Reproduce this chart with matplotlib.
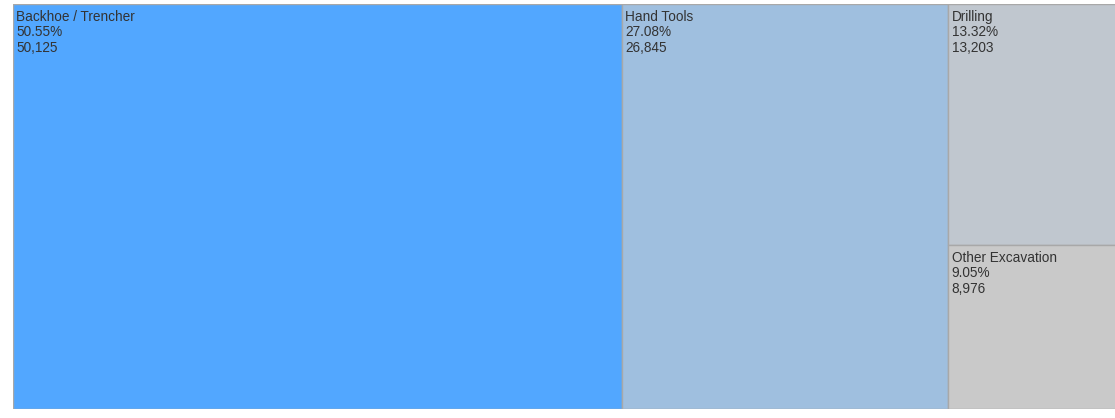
import numpy as np
import matplotlib.pyplot as plt
from matplotlib.patches import Rectangle

# datos del treemap
labels = ['Backhoe / Trencher', 'Hand Tools', 'Drilling', 'Other Excavation']
values = [50125, 26845, 13203, 8976]
pcts = ['50.55%', '27.08%', '13.32%', '9.05%']
colors = ['#52a7ff', '#9fbfdf', '#c0c7cf', '#c9c9c9']
# columna de cada categoria (las dos ultimas van apiladas)
columns = [0, 1, 2, 2]

total = sum(values)

fig = plt.figure(figsize=(11.15, 4.18), dpi=100)
# el treemap se sale por la derecha de la imagen (recortado)
ax = fig.add_axes([13 / 1115, 9 / 418, 1205 / 1115, 405 / 418])
ax.set_xlim(0, total)
ax.set_ylim(1, 0)
ax.axis('off')

x0 = 0
for col in sorted(set(columns)):
    idx = [i for i in range(len(values)) if columns[i] == col]
    col_total = sum(values[i] for i in idx)
    y0 = 0
    for i in idx:
        h = values[i] / col_total
        ax.add_patch(Rectangle((x0, y0), col_total, h, facecolor=colors[i],
                               edgecolor='#a8a8a8', linewidth=1.0))
        txt = labels[i] + '\n' + pcts[i] + '\n' + format(values[i], ',')
        ax.annotate(txt, (x0, y0), xytext=(2.3, -4.0), textcoords='offset points',
                    ha='left', va='top', fontsize=9.8, color='#333333',
                    family='Liberation Sans', linespacing=1.15)
        y0 += h
    x0 += col_total

fig.savefig('out.png', dpi=100)
